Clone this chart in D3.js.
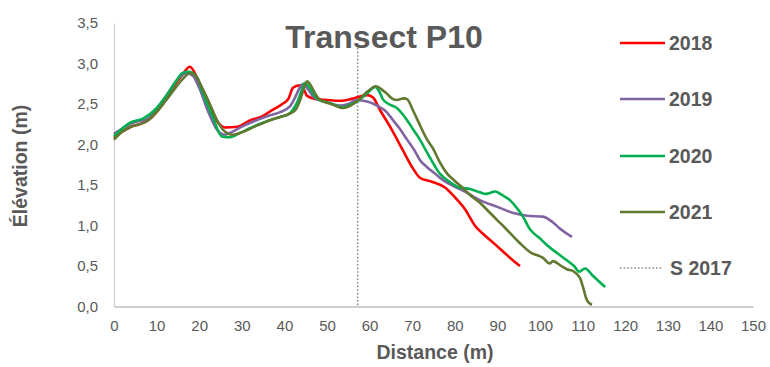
<!DOCTYPE html>
<html><head><meta charset="utf-8">
<script src="https://cdn.jsdelivr.net/npm/d3@7"></script>
<style>
body{margin:0;background:#fff;}
text{font-family:"Liberation Sans",Arial,sans-serif;fill:#595959;}
</style></head>
<body><svg id="c" width="770" height="367"></svg>
<script>
const title = "Transect P10";
const xLabel = "Distance (m)";
const yLabel = "Élévation (m)";
const xTicks = [0,10,20,30,40,50,60,70,80,90,100,110,120,130,140,150];
const yTicks = [0,0.5,1,1.5,2,2.5,3,3.5];
const seriesNames = ["2018","2019","2020","2021"];
const seriesColors = ["#FF0000","#8064A2","#00B050","#617831"];
const refLineName = "S 2017";
const refLineX = 57.2;

const x2018 = [0,2,4,6,8,10,12,14,16,17.8,18.8,20.2,22.5,24.9,26,29,32,34.5,37,39.5,41,42,43.5,44.6,45.3,47.5,50,53,55.5,57.5,59.5,60.8,62.5,64.8,67.8,70,71.8,74.6,77.7,80,82.4,84.7,87,89.4,93,95.3];
const y2018 = [2.08,2.16,2.22,2.25,2.3,2.4,2.55,2.72,2.86,2.96,2.9,2.72,2.46,2.24,2.21,2.22,2.3,2.34,2.42,2.5,2.57,2.7,2.73,2.68,2.6,2.56,2.55,2.54,2.56,2.59,2.61,2.58,2.42,2.22,1.93,1.72,1.59,1.54,1.47,1.35,1.2,1.0,0.88,0.77,0.6,0.5];

const x2019 = [0,2,4,6,8,10,12,14,15.5,17.1,18.5,20,22,24.2,26,27.5,30,33,36.6,39,41.3,42.5,43.7,44.4,45.3,47,50,53,55,57,59.4,61,62.4,64,65.5,67,68.8,70.5,71.8,73.5,74.9,77,80,83,86,90,94,97,100.7,103,104.5,107.5];
const y2019 = [2.13,2.2,2.26,2.29,2.32,2.44,2.58,2.74,2.84,2.88,2.85,2.7,2.42,2.18,2.12,2.15,2.22,2.29,2.36,2.4,2.47,2.58,2.71,2.75,2.7,2.58,2.52,2.48,2.5,2.55,2.53,2.5,2.46,2.4,2.3,2.2,2.06,1.93,1.81,1.72,1.66,1.57,1.48,1.4,1.31,1.23,1.15,1.12,1.11,1.04,0.97,0.86];

const x2020 = [0,2,3.8,6.8,10,12.4,14.8,16,17.4,19.5,20.9,23.2,25.3,27.2,29.5,31.9,34,36.6,39,40.8,42,43,44,44.8,45.5,46.5,47.6,50.7,53.8,55.5,57,59.4,61.3,62.2,63.1,64.5,66.4,67.8,68.8,70.3,71.8,73.5,74.9,76.5,78.5,81,83.6,85.9,87.3,89.5,91,93,94.5,96,97.7,100,101.6,104,106.3,108,109.2,110.6,112.4,115.3];
const y2020 = [2.1,2.2,2.27,2.32,2.45,2.61,2.8,2.88,2.9,2.83,2.63,2.34,2.1,2.09,2.14,2.2,2.25,2.3,2.34,2.37,2.43,2.52,2.66,2.76,2.73,2.65,2.57,2.51,2.46,2.49,2.53,2.63,2.71,2.66,2.56,2.5,2.45,2.37,2.3,2.18,2.06,1.9,1.77,1.64,1.55,1.47,1.45,1.41,1.39,1.42,1.38,1.31,1.22,1.11,0.95,0.84,0.76,0.66,0.57,0.5,0.43,0.47,0.38,0.24];

const x2021 = [0,2,4,6,8,10,12,14,16,17.8,19.2,20.5,22.5,24,25.6,27.9,30,33,36.6,39,40.8,42.5,43.5,44.5,45.3,46.2,47.2,48.4,51,53.8,55.5,57,59.4,61.5,62.8,64,65.5,66.4,68,68.8,70.2,71.1,73.5,74.9,76.5,78.2,80,82,83.5,85.9,88,89.9,92,95.3,97.7,100.7,102.3,103,105,106.3,107.7,109.4,110.1,111,112.2];
const y2021 = [2.06,2.16,2.22,2.25,2.3,2.4,2.53,2.67,2.8,2.88,2.85,2.72,2.5,2.32,2.18,2.12,2.15,2.22,2.3,2.34,2.37,2.42,2.52,2.68,2.78,2.73,2.63,2.55,2.5,2.45,2.48,2.53,2.65,2.72,2.68,2.63,2.56,2.55,2.57,2.56,2.42,2.32,2.06,1.95,1.78,1.64,1.55,1.46,1.38,1.28,1.17,1.07,0.96,0.78,0.67,0.6,0.53,0.56,0.5,0.46,0.44,0.35,0.24,0.08,0.02];

const seriesX = [x2018,x2019,x2020,x2021];
const seriesY = [y2018,y2019,y2020,y2021];

const svg = d3.select("#c");
const xs = d3.scaleLinear().domain([0,150]).range([114,753]);
const ys = d3.scaleLinear().domain([0,3.5]).range([306.5,23]);
const fmt = v => d3.format(".1f")(v).replace(".", ",");

// axes
const gx = svg.append("g").attr("transform",`translate(0,${ys(0)})`)
  .call(d3.axisBottom(xs).tickValues(xTicks).tickSize(0).tickPadding(14));
gx.select(".domain").attr("stroke","#BFBFBF").attr("stroke-width",1.3);
gx.selectAll("text").style("font-size","15px").style("fill","#595959").attr("font-family",null);
const gy = svg.append("g").attr("transform",`translate(${xs(0)},0)`)
  .call(d3.axisLeft(ys).tickValues(yTicks).tickFormat(fmt).tickSize(0).tickPadding(16));
gy.select(".domain").attr("stroke","#D0D0D0").attr("stroke-width",1.3);
gy.selectAll("text").style("font-size","15px").style("fill","#595959").attr("font-family",null);

// reference line
svg.append("line").attr("x1",xs(refLineX)).attr("x2",xs(refLineX))
  .attr("y1",48).attr("y2",ys(0))
  .attr("stroke","#8C8C8C").attr("stroke-width",1.6).attr("stroke-dasharray","1.6,2");

// series
const line = d3.line().x(d=>xs(d[0])).y(d=>ys(d[1])).curve(d3.curveMonotoneX);
seriesNames.forEach((n,i)=>{
  const pts = seriesX[i].map((xv,j)=>[xv,seriesY[i][j]]);
  svg.append("path").datum(pts).attr("d",line).attr("fill","none")
    .attr("stroke",seriesColors[i]).attr("stroke-width",2.6).attr("stroke-linejoin","round");
});

// title
svg.append("text").attr("x",384).attr("y",48).attr("text-anchor","middle")
  .style("font-size","32px").style("font-weight","bold").text(title);

// axis titles
svg.append("text").attr("x",435).attr("y",359).attr("text-anchor","middle")
  .style("font-size","19.5px").style("font-weight","bold").text(xLabel);
svg.append("text").attr("transform","translate(27,166) rotate(-90)").attr("text-anchor","middle")
  .style("font-size","19.5px").style("font-weight","bold").text(yLabel);

// legend
const legY = [43,99,156,212,268];
seriesNames.forEach((n,i)=>{
  svg.append("line").attr("x1",620).attr("x2",665).attr("y1",legY[i]).attr("y2",legY[i])
    .attr("stroke",seriesColors[i]).attr("stroke-width",2.6);
  svg.append("text").attr("x",669).attr("y",legY[i]+7).style("font-size","19.5px")
    .style("font-weight","bold").text(n);
});
svg.append("line").attr("x1",620).attr("x2",663).attr("y1",legY[4]).attr("y2",legY[4])
  .attr("stroke","#8C8C8C").attr("stroke-width",1.6).attr("stroke-dasharray","1.6,2");
svg.append("text").attr("x",670).attr("y",legY[4]+7).style("font-size","19.5px")
  .style("font-weight","bold").text(refLineName);
</script></body></html>
